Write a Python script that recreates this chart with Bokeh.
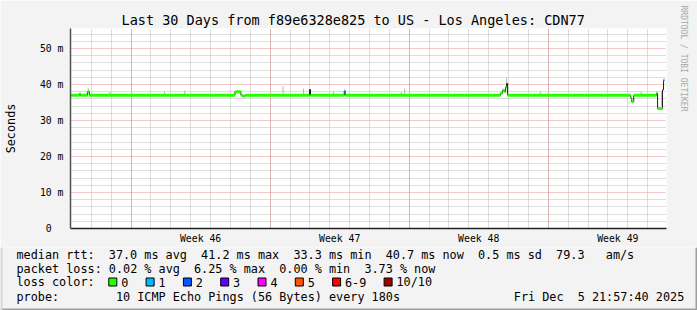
import re
from bokeh.plotting import figure
from bokeh.layouts import column
from bokeh.models import Range1d, FixedTicker, Title
from bokeh.core.properties import value
from bokeh.embed import file_html
from bokeh.resources import INLINE

# ---------------- data ----------------
TITLE = "Last 30 Days from f89e6328e825 to US - Los Angeles: CDN77"
Y_LABEL = "Seconds"
WATERMARK = "RRDTOOL / TOBI OETIKER"

# x in days since start of the 30-day window, y in milliseconds
week_starts = [3.05, 10.05, 17.05, 24.05]
week_labels = ["Week 46", "Week 47", "Week 48", "Week 49"]
day_lines = [0.05 + k for k in range(1, 30)]
y_ticks = [0, 10, 20, 30, 40, 50]
y_tick_labels = ["0\u00a0\u00a0", "10 m", "20 m", "30 m", "40 m", "50 m"]
y_minor = [2, 4, 6, 8, 12, 14, 16, 18, 22, 24, 26, 28, 32, 34, 36, 38, 42, 44, 46, 48, 52, 54]

# median rtt as steps: start time, value, loss level (-1 = no band)
med_t = [0.00, 0.45, 0.50, 0.85, 0.95, 8.28, 8.58, 8.65, 8.80, 12.03, 12.08, 13.78, 13.83,
         21.65, 21.75, 21.85, 21.90, 21.95, 22.00, 28.20, 28.25, 28.35, 29.50, 29.55, 29.80, 29.85]
med_end = 29.90
med_v = [37.0, 37.4, 37.0, 38.0, 37.0, 38.0, 37.0, 36.8, 37.0, 38.6, 37.0, 38.2, 37.0,
         37.6, 38.4, 38.0, 39.2, 40.3, 37.0, 36.2, 35.2, 37.0, 37.6, 33.3, 38.5, 41.2]
med_loss = [0, 0, 0, 0, 0, 0, 0, 0, 0, -1, 0, 1, 0,
            0, 0, 0, 0, -1, 0, 0, 0, 0, 0, 0, -1, 1]

# smoke (spread of the pings) as narrow grey bars
smoke_t = [0.90, 1.98, 4.73, 5.75, 10.70, 11.73, 13.23, 16.65, 16.82, 21.95, 23.65, 28.73, 29.75]
smoke_lo = [37.5, 37.3, 37.3, 37.3, 37.5, 37.3, 37.3, 37.3, 37.3, 40.3, 37.3, 37.3, 34.0]
smoke_hi = [38.9, 37.9, 38.0, 38.3, 39.5, 38.9, 38.2, 37.9, 38.9, 41.9, 38.0, 38.0, 38.0]

loss_levels = ["0", "1", "2", "3", "4", "5", "6-9", "10/10"]
loss_colors = ["#26ff00", "#00b8ff", "#0059ff", "#5e00ff", "#ff00ff", "#ff5500", "#ff0000", "#a10000"]

legend_lines = [
    "median rtt:  37.0 ms avg  41.2 ms max  33.3 ms min  40.7 ms now  0.5 ms sd  79.3   am/s",
    "packet loss: 0.02 % avg  6.25 % max  0.00 % min  3.73 % now",
    None,
    "probe:        10 ICMP Echo Pings (56 Bytes) every 180s",
]
loss_label = "loss color:"
date_text = "Fri Dec  5 21:57:40 2025"

# ---------------- layout ----------------
W, H = 697, 310
FL, FT, FW, FH = 67, 28, 600, 200
TOP_H = 247           # height of the graph part, the legend part is below it
X0, X1 = 0.0, 30.0
Y0, Y1 = 0.0, 55.556
FONT = "DejaVu Sans Mono"
BG = "#f3f3f3"
CW = 7.1  # char width of legend text

p = figure(width=W, height=TOP_H, output_backend="svg", toolbar_location=None,
           x_range=Range1d(X0, X1), y_range=Range1d(Y0, Y1),
           min_border_left=FL, min_border_right=W - FL - FW,
           min_border_top=FT, min_border_bottom=TOP_H - FT - FH)
p.background_fill_color = "white"
p.border_fill_color = BG
p.outline_line_color = None

p.title.text = TITLE
p.title.text_font = FONT
p.title.text_font_size = "13.5px"
p.title.text_font_style = "normal"
p.title.align = "left"
p.title.offset = 51
p.title.standoff = 2
p.title.text_color = "black"

wm = Title(text=WATERMARK, align="left", offset=-23, text_font=FONT, text_font_size="8px",
           text_font_style="normal", text_color="#a8a8a8", standoff=20, vertical_align="top")
p.add_layout(wm, "right")

# grids
p.xgrid.ticker = FixedTicker(ticks=week_starts, minor_ticks=day_lines)
p.ygrid.ticker = FixedTicker(ticks=y_ticks, minor_ticks=y_minor)
for g in (p.xgrid, p.ygrid):
    g.grid_line_color = "#e07878"
    g.grid_line_alpha = 0.8
    g.grid_line_dash = "1 1"
    g.minor_grid_line_color = "#bcbcbc"
    g.minor_grid_line_dash = "1 1"

# axes
week_mids = [w + 3.5 for w in week_starts]
p.xaxis.ticker = FixedTicker(ticks=week_mids)
p.xaxis.major_label_overrides = {m: l for m, l in zip(week_mids, week_labels)}
p.yaxis.ticker = FixedTicker(ticks=y_ticks)
p.yaxis.major_label_overrides = {t: l for t, l in zip(y_ticks, y_tick_labels)}
for ax in (p.xaxis, p.yaxis):
    ax.axis_line_color = "#202020"
    ax.axis_line_width = 1.5
    ax.major_tick_line_color = None
    ax.minor_tick_line_color = None
    ax.major_tick_out = 0
    ax.major_tick_in = 0
    ax.minor_tick_out = 0
    ax.minor_tick_in = 0
    ax.major_label_text_font = FONT
    ax.major_label_text_font_size = "9.8px"
    ax.major_label_text_color = "black"
p.yaxis.axis_line_color = "#505050"
p.xaxis.major_label_standoff = 4
p.yaxis.major_label_standoff = 7
p.yaxis.axis_label = Y_LABEL
p.yaxis.axis_label_text_font = FONT
p.yaxis.axis_label_text_font_size = "11.8px"
p.yaxis.axis_label_text_font_style = "normal"
p.yaxis.axis_label_text_color = "black"
p.yaxis.axis_label_standoff = 19

# smoke
p.quad(left=[t - 0.025 for t in smoke_t], right=[t + 0.025 for t in smoke_t],
       bottom=smoke_lo, top=smoke_hi, fill_color="#b4b4b4", line_color=None)

# median line (thin black step line)
step_x = med_t + [med_end]
step_y = med_v + [med_v[-1]]
p.step(x=step_x, y=step_y, mode="after", line_color="#202020", line_width=1)

# loss colored band
HALF = 0.4
bl, br, bb, bt, bc = [], [], [], [], []
for i, (t, v, lo) in enumerate(zip(med_t, med_v, med_loss)):
    if lo < 0:
        continue
    t2 = med_t[i + 1] if i + 1 < len(med_t) else med_end
    bl.append(t); br.append(t2); bb.append(v - HALF); bt.append(v + HALF); bc.append(loss_colors[lo])
p.quad(left=bl, right=br, bottom=bb, top=bt, fill_color=bc, line_color=None)

# ---------------- legend panel (pixel coordinates, y down) ----------------
LH = H - TOP_H
leg = figure(width=W, height=LH, output_backend="svg", toolbar_location=None,
             x_range=Range1d(0, W), y_range=Range1d(H, TOP_H),
             min_border=0, min_border_left=0, min_border_right=0,
             min_border_top=0, min_border_bottom=0)
leg.axis.visible = False
leg.grid.visible = False
leg.background_fill_color = BG
leg.border_fill_color = BG
leg.outline_line_color = None
for fig in (p, leg):
    try:
        fig.frame_align = False
    except Exception:
        pass

tx, ty, tt = [], [], []
row_y = [254, 268.3, 281.7, 296]
LX = 16
for line, ry in zip(legend_lines, row_y):
    if line is None:
        continue
    for m in re.finditer(r"\S+(?: \S+)*", line):
        tx.append(LX + m.start() * CW); ty.append(ry); tt.append(m.group(0))
tx.append(LX); ty.append(row_y[2]); tt.append(loss_label)
box_l = []
bx = 108.3
for lab in loss_levels:
    box_l.append(bx)
    tx.append(bx + 12.4); ty.append(row_y[2]); tt.append(lab)
    bx = bx + 12.4 + len(lab) * CW + 17.8
for m in re.finditer(r"\S+(?: \S+)*", date_text):
    tx.append(513.3 + m.start() * CW); ty.append(row_y[3]); tt.append(m.group(0))

leg.quad(left=box_l, right=[b + 8 for b in box_l], top=[277.5] * len(box_l),
         bottom=[285.5] * len(box_l), fill_color=loss_colors, line_color="black", line_width=1)
leg.text(x=tx, y=ty, text=tt, text_font=value(FONT), text_font_size="11.8px",
         text_baseline="middle", text_align="left", text_color="black")
# shaded image border at the bottom / right / left
leg.segment(x0=[0, W - 1, 1], y0=[H - 1, TOP_H, TOP_H], x1=[W, W - 1, 1], y1=[H - 1, H, H],
            line_color=["#9e9e9e", "#9e9e9e", "#d4d4d4"], line_width=2)

lay = column(p, leg, spacing=0)
open("out.html", "w").write(file_html(lay, INLINE))
